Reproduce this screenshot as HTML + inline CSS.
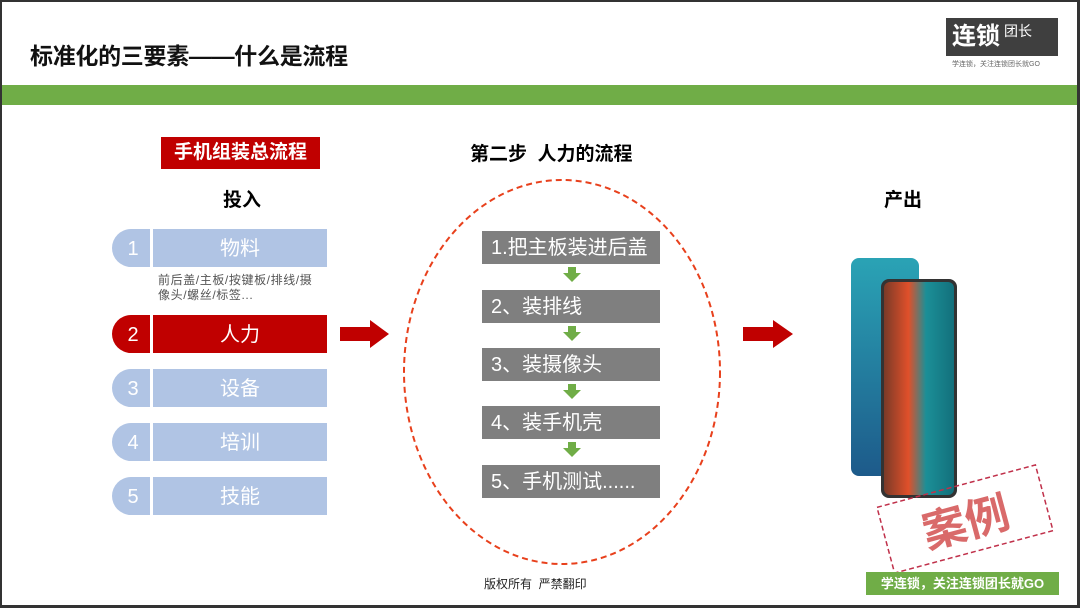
<!DOCTYPE html>
<html><head><meta charset="utf-8"><style>
*{margin:0;padding:0;box-sizing:border-box}
body{width:1080px;height:608px;position:relative;background:#fff;font-family:"Liberation Sans","Noto Sans CJK SC",sans-serif;overflow:hidden}
.a{position:absolute}
.frame{left:0;top:0;width:1080px;height:608px;border:2px solid #333;border-right-width:3px;border-bottom-width:3px}
.title{left:30px;top:37px;font-size:23px;font-weight:bold;color:#111;letter-spacing:-0.3px}
.row .c{position:absolute;left:112px;width:38px;border-radius:19px 0 0 19px;color:#fff;font-size:20px;line-height:40px;text-align:center;padding-left:4px}
.row .b{position:absolute;left:153px;width:174px;color:#fff;font-size:20px;line-height:40px;text-align:center}
.blue{background:#b0c4e4}.red{background:#c00000}
.g{left:482px;width:178px;height:33px;background:#7f7f7f;color:#fff;font-size:20px;line-height:35px;padding-left:9px}
</style></head><body>
<div class="a title">标准化的三要素——什么是流程</div>
<div class="a" style="left:946px;top:18px;width:112px;height:38px;background:#3f3f3f;color:#fff;font-size:24px;line-height:38px;padding-left:6px;font-weight:bold">连锁<span style="font-size:14px;font-weight:normal;margin-left:4px;vertical-align:top;line-height:26px">团长</span></div>
<div class="a" style="left:952px;top:59px;font-size:7px;color:#666">学连锁，关注连锁团长就GO</div>
<div class="a" style="left:0;top:85px;width:1080px;height:20px;background:#70ad47"></div>

<div class="a" style="left:161px;top:137px;width:159px;height:32px;background:#c00000;color:#fff;font-size:19px;font-weight:bold;line-height:32px;text-align:center">手机组装总流程</div>
<div class="a" style="left:223px;top:185px;font-size:19px;font-weight:bold">投入</div>

<div class="row"><div class="c blue" style="top:229px;height:38px">1</div><div class="b blue" style="top:229px;height:38px">物料</div></div>
<div class="a" style="left:158px;top:273px;font-size:12px;color:#555;line-height:15px;width:162px;letter-spacing:0.6px">前后盖/主板/按键板/排线/摄像头/螺丝/标签...</div>
<div class="row"><div class="c red" style="top:315px;height:38px">2</div><div class="b red" style="top:315px;height:38px">人力</div></div>
<div class="row"><div class="c blue" style="top:369px;height:38px">3</div><div class="b blue" style="top:369px;height:38px">设备</div></div>
<div class="row"><div class="c blue" style="top:423px;height:38px">4</div><div class="b blue" style="top:423px;height:38px">培训</div></div>
<div class="row"><div class="c blue" style="top:477px;height:38px">5</div><div class="b blue" style="top:477px;height:38px">技能</div></div>

<svg class="a" style="left:0;top:0" width="1080" height="608">
<polygon points="340,327 370,327 370,320 389,334 370,348 370,341 340,341" fill="#c00000"/>
<polygon points="743,327 773,327 773,320 793,334 773,348 773,341 743,341" fill="#c00000"/>
<ellipse cx="562" cy="372" rx="158" ry="192" fill="none" stroke="#e8401c" stroke-width="2" stroke-dasharray="6,4"/>
<g fill="#70ad47">
<polygon points="568,267 576,267 576,273 581,273 572,282 563,273 568,273"/>
<polygon points="568,326 576,326 576,332 581,332 572,341 563,332 568,332"/>
<polygon points="568,384 576,384 576,390 581,390 572,399 563,390 568,390"/>
<polygon points="568,442 576,442 576,448 581,448 572,457 563,448 568,448"/>
</g>
<defs><linearGradient id="p1" x1="0" y1="0" x2="0" y2="1"><stop offset="0" stop-color="#2aa3b5"/><stop offset="1" stop-color="#1d5a8a"/></linearGradient>
<linearGradient id="p2" x1="0" y1="0" x2="1" y2="0"><stop offset="0" stop-color="#7a3a28"/><stop offset="0.35" stop-color="#e0502a"/><stop offset="0.6" stop-color="#1b8f97"/><stop offset="1" stop-color="#13707c"/></linearGradient></defs>
<rect x="851" y="258" width="68" height="218" rx="8" fill="url(#p1)"/>
<rect x="881" y="279" width="76" height="219" rx="8" fill="#333"/>
<rect x="884" y="282" width="70" height="213" rx="6" fill="url(#p2)"/>
<g transform="rotate(-15 965 519)"><rect x="883" y="485" width="164" height="68" fill="none" stroke="#c0304a" stroke-width="1.5" stroke-dasharray="5,3"/>
<text x="965" y="538" text-anchor="middle" font-size="44" font-weight="bold" fill="#d96a6a" font-family="Liberation Sans,Noto Sans CJK SC,sans-serif">案例</text></g>
</svg>

<div class="a" style="left:470px;top:139px;font-size:19px;font-weight:bold">第二步&nbsp;&nbsp;人力的流程</div>
<div class="a g" style="top:231px">1.把主板装进后盖</div>
<div class="a g" style="top:290px">2、装排线</div>
<div class="a g" style="top:348px">3、装摄像头</div>
<div class="a g" style="top:406px">4、装手机壳</div>
<div class="a g" style="top:465px">5、手机测试......</div>

<div class="a" style="left:884px;top:185px;font-size:19px;font-weight:bold">产出</div>
<div class="a" style="left:484px;top:575px;font-size:12px;color:#222">版权所有&nbsp;&nbsp;严禁翻印</div>
<div class="a" style="left:866px;top:572px;width:193px;height:23px;background:#70ad47;color:#fff;font-size:13px;font-weight:bold;line-height:23px;text-align:center">学连锁，关注连锁团长就GO</div>
<div class="a frame"></div>
</body></html>
